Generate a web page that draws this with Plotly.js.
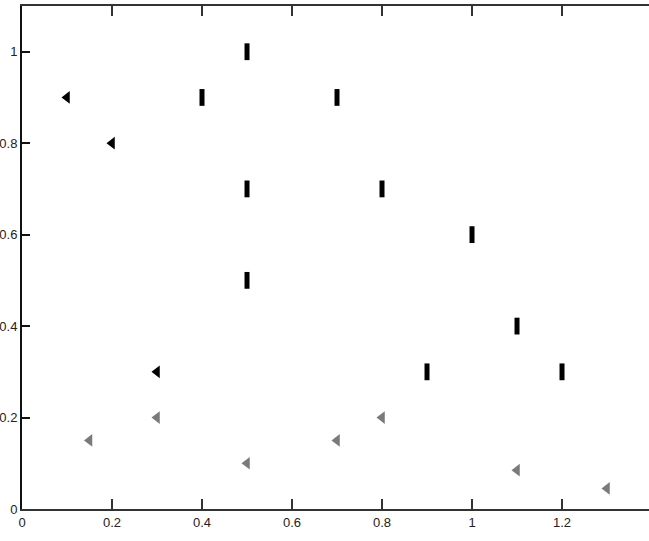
<!DOCTYPE html>
<html>
<head>
<meta charset="utf-8">
<script src="https://cdn.plot.ly/plotly-3.0.1.min.js"></script>
<style>
  html, body { margin: 0; padding: 0; background: #fff; }
  #chart { width: 649px; height: 541px; }
</style>
</head>
<body>
<div id="chart"></div>
<script>
// Series A: black bar-shaped markers
var seriesA_x = [0.5, 0.4, 0.7, 0.5, 0.8, 1.0, 0.5, 1.1, 0.9, 1.2];
var seriesA_y = [1.0, 0.9, 0.9, 0.7, 0.7, 0.6, 0.5, 0.4, 0.3, 0.3];
// Series B: black left-pointing markers
var seriesB_x = [0.1, 0.2, 0.3];
var seriesB_y = [0.9, 0.8, 0.3];
// Series C: grey left-pointing markers
var seriesC_x = [0.15, 0.3, 0.5, 0.7, 0.8, 1.1, 1.3];
var seriesC_y = [0.15, 0.2, 0.1, 0.15, 0.2, 0.085, 0.045];

var xTickVals = [0, 0.2, 0.4, 0.6, 0.8, 1, 1.2];
var xTickText = ["0", "0.2", "0.4", "0.6", "0.8", "1", "1.2"];
var yTickVals = [0, 0.2, 0.4, 0.6, 0.8, 1];
var yTickText = ["0", "0.2", "0.4", "0.6", "0.8", "1"];

var traces = [
  {
    x: seriesA_x, y: seriesA_y, type: 'scatter', mode: 'markers', name: 'A',
    marker: { symbol: 'line-ns', size: 12, color: '#000', line: { color: '#000', width: 5 } }
  },
  {
    x: seriesB_x, y: seriesB_y, type: 'scatter', mode: 'markers', name: 'B',
    marker: { symbol: 'triangle-left', size: 11, color: '#000', line: { width: 0 } }
  },
  {
    x: seriesC_x, y: seriesC_y, type: 'scatter', mode: 'markers', name: 'C',
    marker: { symbol: 'triangle-left', size: 11, color: '#7a7a7a', line: { width: 0 } }
  }
];

var fontFam = '"Liberation Sans", Arial, sans-serif';

var layout = {
  width: 649, height: 541,
  margin: { l: 22, r: 0, t: 6, b: 32 },
  paper_bgcolor: '#fff', plot_bgcolor: '#fff',
  showlegend: false,
  font: { family: fontFam, size: 13, color: '#222' },
  xaxis: {
    range: [0, 1.3933], showgrid: false, zeroline: false,
    showline: true, linecolor: '#333', linewidth: 2, mirror: 'ticks',
    ticks: 'inside', ticklen: 10, tickwidth: 2, tickcolor: '#333',
    tickvals: xTickVals, ticktext: xTickText,
    tickfont: { family: fontFam, size: 13, color: '#222' }
  },
  yaxis: {
    range: [0, 1.1], showgrid: false, zeroline: false,
    showline: true, linecolor: '#111', linewidth: 2, mirror: false,
    ticks: 'inside', ticklen: 8, tickwidth: 2, tickcolor: '#111',
    tickvals: yTickVals, ticktext: yTickText,
    tickfont: { family: fontFam, size: 13, color: '#222' }
  }
};

Plotly.newPlot('chart', traces, layout, { displayModeBar: false, staticPlot: true });
</script>
</body>
</html>
